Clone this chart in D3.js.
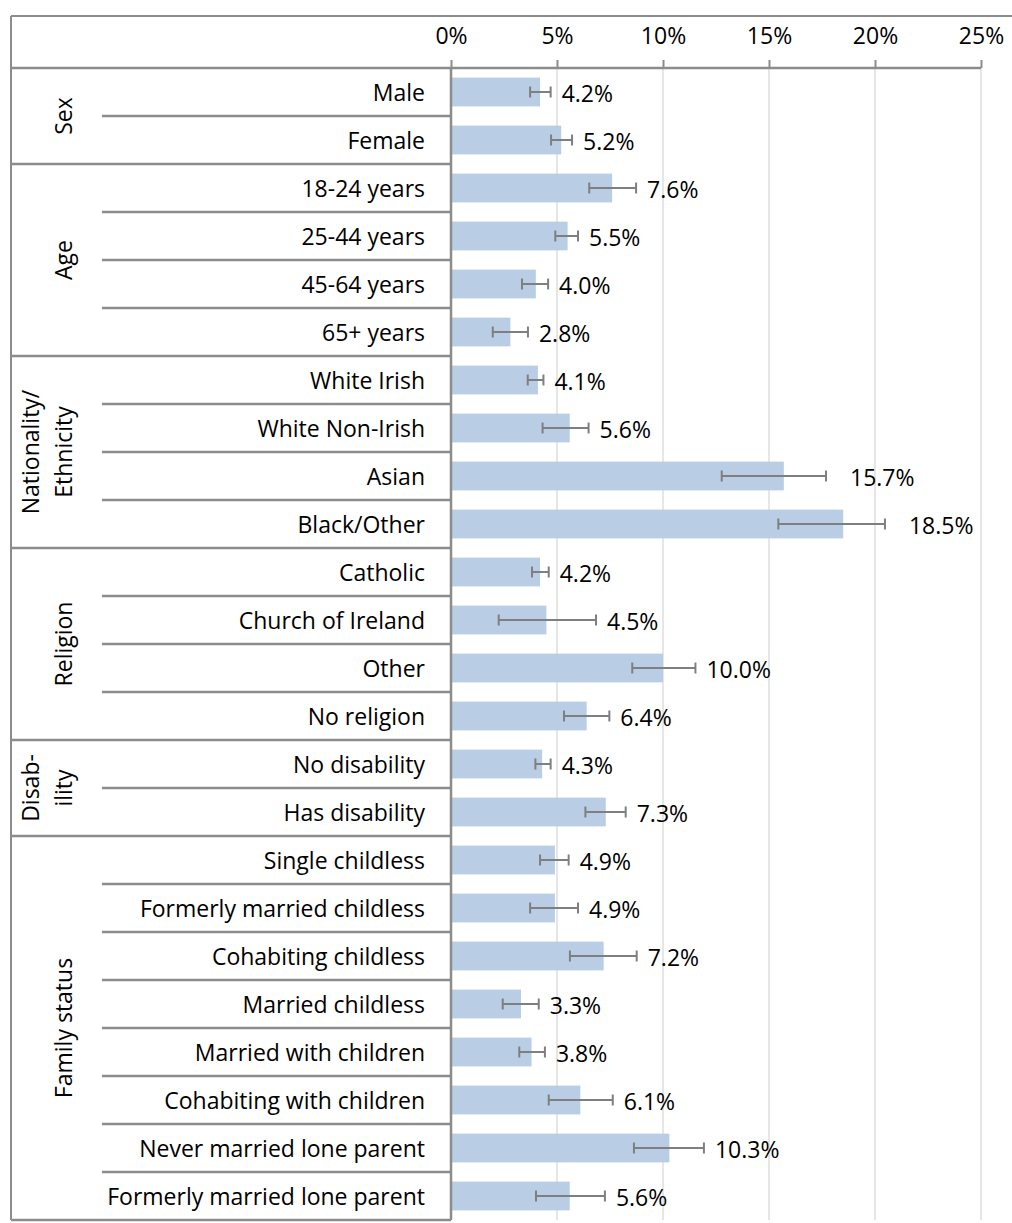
<!DOCTYPE html>
<html><head><meta charset="utf-8">
<script src="https://cdn.jsdelivr.net/npm/d3@7"></script>
<style>
html,body{margin:0;padding:0;background:#fff;}
svg text{font-family:"Open Sans","Noto Sans",sans-serif;fill:#000;}
</style></head>
<body>
<svg id="chart" width="1012" height="1223"></svg>
<script>
const categories = ["Male","Female","18-24 years","25-44 years","45-64 years","65+ years",
 "White Irish","White Non-Irish","Asian","Black/Other",
 "Catholic","Church of Ireland","Other","No religion",
 "No disability","Has disability",
 "Single childless","Formerly married childless","Cohabiting childless","Married childless",
 "Married with children","Cohabiting with children","Never married lone parent","Formerly married lone parent"];
const values = [4.2,5.2,7.6,5.5,4.0,2.8,4.1,5.6,15.7,18.5,4.2,4.5,10.0,6.4,4.3,7.3,4.9,4.9,7.2,3.3,3.8,6.1,10.3,5.6];
const errLow = [3.73,4.72,6.52,4.92,3.35,1.97,3.62,4.32,12.77,15.44,3.82,2.25,8.55,5.33,3.98,6.34,4.20,3.73,5.61,2.44,3.22,4.61,8.63,4.01];
const errHigh = [4.70,5.71,8.73,5.99,4.58,3.63,4.36,6.49,17.69,20.47,4.61,6.84,11.53,7.47,4.70,8.24,5.55,5.99,8.76,4.14,4.43,7.63,11.93,7.26];
const groupNames = [["Sex"],["Age"],["Nationality/","Ethnicity"],["Religion"],["Disab-","ility"],["Family status"]];
const groupSizes = [2,4,4,4,2,8];
const tickValues = [0,5,10,15,20,25];

const svg = d3.select("#chart");
const pLeft = 451, pRight = 981, pTop = 68, pBottom = 1220;
const x = d3.scaleLinear().domain([0,25]).range([pLeft,pRight]);
const y = d3.scaleBand().domain(categories).range([pTop,pBottom]).paddingInner(0.4).paddingOuter(0.2);
const step = y.step();
const lineCol = "#8c8c8c";
const fs = 23;
const ff = "'Open Sans','Noto Sans',sans-serif";

// gridlines
svg.append("g").selectAll("line").data(tickValues.slice(1)).join("line")
  .attr("x1",d=>x(d)).attr("x2",d=>x(d)).attr("y1",pTop).attr("y2",pBottom)
  .attr("stroke","#d9d9d9").attr("stroke-width",1.3);

// outer frame
svg.append("line").attr("x1",11).attr("x2",1012).attr("y1",16).attr("y2",16).attr("stroke",lineCol).attr("stroke-width",2);
svg.append("line").attr("x1",11).attr("x2",11).attr("y1",16).attr("y2",pBottom).attr("stroke",lineCol).attr("stroke-width",2);

// top axis
const axis = d3.axisTop(x).tickValues(tickValues).tickFormat(d=>d+"%").tickSize(8).tickPadding(16);
const ag = svg.append("g").attr("transform",`translate(0,${pTop})`).call(axis);
ag.select(".domain").remove();
ag.selectAll(".tick line").attr("stroke",lineCol).attr("stroke-width",2);
ag.selectAll(".tick text").attr("font-size",fs).attr("font-family",ff).attr("fill","#000");
svg.append("line").attr("x1",11).attr("x2",pRight).attr("y1",pTop).attr("y2",pTop).attr("stroke",lineCol).attr("stroke-width",2.5);

// row separators and group labels
let idx = 0;
const sepG = svg.append("g");
groupSizes.forEach((n,gi)=>{
  for(let k=1;k<n;k++){
    const yy = y(categories[idx+k]) - step*0.2;
    sepG.append("line").attr("x1",102).attr("x2",pLeft).attr("y1",yy).attr("y2",yy).attr("stroke",lineCol).attr("stroke-width",2.5);
  }
  const yEnd = y(categories[idx+n-1]) + y.bandwidth() + step*0.2;
  sepG.append("line").attr("x1",11).attr("x2",pLeft).attr("y1",yEnd).attr("y2",yEnd).attr("stroke",lineCol).attr("stroke-width",2.5);
  const yStart = y(categories[idx]) - step*0.2;
  const cy = (yStart+yEnd)/2;
  const lines = groupNames[gi];
  const t = svg.append("text").attr("transform",`translate(${lines.length>1?30:63},${cy}) rotate(-90)`)
    .attr("text-anchor","middle").attr("font-size",fs).attr("dominant-baseline","central");
  lines.forEach((l,li)=>{
    t.append("tspan").attr("x",0).attr("dy",li===0?0:33).text(l);
  });
  idx += n;
});

// bars
svg.append("g").selectAll("rect").data(categories).join("rect")
  .attr("x",x(0)).attr("y",d=>y(d)).attr("width",(d,i)=>x(values[i])-x(0)).attr("height",y.bandwidth())
  .attr("fill","#b9cde5");

// axis line left
svg.append("line").attr("x1",pLeft).attr("x2",pLeft).attr("y1",pTop).attr("y2",pBottom).attr("stroke",lineCol).attr("stroke-width",2.5);

// error bars
const eg = svg.append("g").attr("stroke","#7f7f7f").attr("stroke-width",2);
categories.forEach((c,i)=>{
  const cy = y(c)+y.bandwidth()/2;
  eg.append("line").attr("x1",x(errLow[i])).attr("x2",x(errHigh[i])).attr("y1",cy).attr("y2",cy);
  eg.append("line").attr("x1",x(errLow[i])).attr("x2",x(errLow[i])).attr("y1",cy-5.5).attr("y2",cy+5.5);
  eg.append("line").attr("x1",x(errHigh[i])).attr("x2",x(errHigh[i])).attr("y1",cy-5.5).attr("y2",cy+5.5);
});

// category labels
svg.append("g").selectAll("text").data(categories).join("text")
  .attr("x",425).attr("y",d=>y(d)+y.bandwidth()/2).attr("text-anchor","end")
  .attr("dominant-baseline","central").attr("font-size",fs).text(d=>d);

// value labels
svg.append("g").selectAll("text").data(categories).join("text")
  .attr("x",(d,i)=>x(errHigh[i])+(values[i]>15?24:11)).attr("y",d=>y(d)+y.bandwidth()/2+1)
  .attr("dominant-baseline","central").attr("font-size",fs).text((d,i)=>values[i].toFixed(1)+"%");
</script>
</body></html>
